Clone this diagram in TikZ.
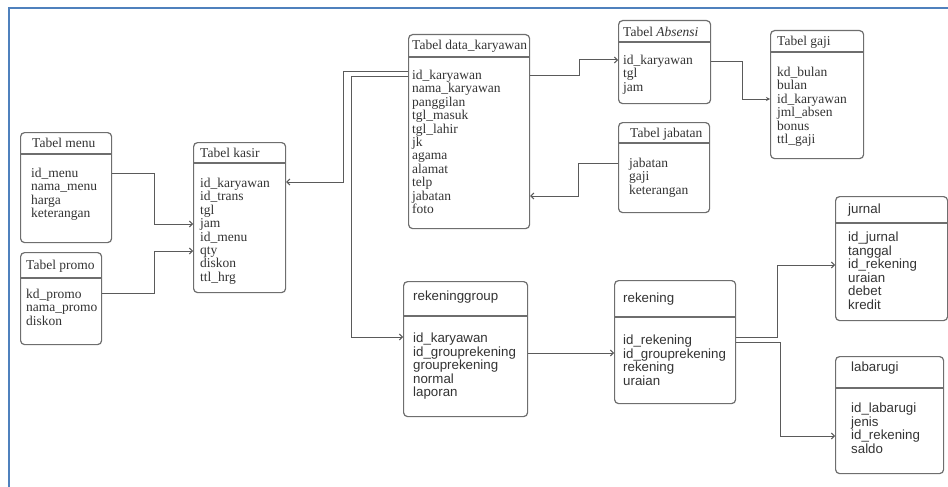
\documentclass[tikz,border=0pt]{standalone}
\usepackage{fontspec}
\setmainfont{Liberation Serif}
\newfontfamily\arialfont{Liberation Sans}
\usetikzlibrary{arrows.meta,positioning,calc}

\definecolor{frameblue}{HTML}{4F81BD}
\definecolor{boxgray}{HTML}{6E6E6E}
\definecolor{linegray}{HTML}{5A5A5A}
\definecolor{txtgray}{HTML}{333333}

\begin{document}
\begin{tikzpicture}[x=1pt, y=-1pt, >={Straight Barb[length=3pt,width=6pt]},
  tbl/.style={draw=boxgray, line width=1.2pt, rounded corners=4pt, anchor=north west, inner sep=0pt},
  hdr/.style={draw=boxgray, line width=1.2pt},
  ttl/.style={anchor=west, inner sep=0pt, text=txtgray, font=\fontsize{13.5}{13.4}\selectfont},
  fld/.style={anchor=north west, inner sep=0pt, align=left, text=txtgray, font=\fontsize{13.5}{13.4}\selectfont},
  sttl/.style={ttl, font=\arialfont\fontsize{13.3}{13.5}\selectfont},
  sfld/.style={fld, font=\arialfont\fontsize{13.3}{13.5}\selectfont},
  rel/.style={draw=linegray, line width=1pt, ->}]
\useasboundingbox (0,0) rectangle (948,487);
\draw[frameblue, line width=2.3pt] (9,487) -- (9,8) -- (948,8);

% tabel menu & promo
\node[tbl, minimum width=91pt, minimum height=110pt] (menu) at (20,132) {};
\draw[hdr] (menu.west |- 0,154) -- (menu.east |- 0,154);
\node[ttl] (menut) at (32,143) {Tabel menu};
\node[fld] (menuf) at (31,168) {id\_menu\\nama\_menu\\harga\\keterangan};

\node[tbl, minimum width=81pt, minimum height=92pt] (promo) at (20,252) {};
\draw[hdr] (promo.west |- 0,278) -- (promo.east |- 0,278);
\node[ttl] (promot) at (26,266) {Tabel promo};
\node[fld] (promof) at (26,289) {kd\_promo\\nama\_promo\\diskon};

% tabel kasir
\node[tbl, minimum width=92pt, minimum height=150pt] (kasir) at (193,142) {};
\draw[hdr] (kasir.west |- 0,163) -- (kasir.east |- 0,163);
\node[ttl] (kasirt) at (200,153) {Tabel kasir};
\node[fld] (kasirf) at (200,178) {id\_karyawan\\id\_trans\\tgl\\jam\\id\_menu\\qty\\diskon\\ttl\_hrg};

% tabel data_karyawan
\node[tbl, minimum width=121pt, minimum height=194pt] (kar) at (408,34) {};
\draw[hdr] (kar.west |- 0,57) -- (kar.east |- 0,57);
\node[ttl] (kart) at (412,46) {Tabel data\_karyawan};
\node[fld] (karf) at (412,70) {id\_karyawan\\nama\_karyawan\\panggilan\\tgl\_masuk\\tgl\_lahir\\jk\\agama\\alamat\\telp\\jabatan\\foto};

% tabel absensi, jabatan, gaji
\node[tbl, minimum width=92pt, minimum height=83pt] (absen) at (618,20) {};
\draw[hdr] (absen.west |- 0,42) -- (absen.east |- 0,42);
\node[ttl] (absent) at (623,32) {Tabel \textit{Absensi}};
\node[fld] (absenf) at (623,55) {id\_karyawan\\tgl\\jam};

\node[tbl, minimum width=91pt, minimum height=90pt] (jabatan) at (618,122) {};
\draw[hdr] (jabatan.west |- 0,143) -- (jabatan.east |- 0,143);
\node[ttl] (jabatant) at (630,134) {Tabel jabatan};
\node[fld] (jabatanf) at (629,158) {jabatan\\gaji\\keterangan};

\node[tbl, minimum width=93pt, minimum height=128pt] (gaji) at (770,30) {};
\draw[hdr] (gaji.west |- 0,52) -- (gaji.east |- 0,52);
\node[ttl] (gajit) at (777,42) {Tabel gaji};
\node[fld] (gajif) at (777,67) {kd\_bulan\\bulan\\id\_karyawan\\jml\_absen\\bonus\\ttl\_gaji};

% rekening part
\node[tbl, minimum width=124pt, minimum height=135pt] (rgroup) at (403,281) {};
\draw[hdr] (rgroup.west |- 0,316) -- (rgroup.east |- 0,316);
\node[sttl] (rgroupt) at (413,297) {rekeninggroup};
\node[sfld] (rgroupf) at (413,333) {id\_karyawan\\id\_grouprekening\\grouprekening\\normal\\laporan};

\node[tbl, minimum width=121pt, minimum height=123pt] (rek) at (614,280) {};
\draw[hdr] (rek.west |- 0,317) -- (rek.east |- 0,317);
\node[sttl] (rekt) at (623,299) {rekening};
\node[sfld] (rekf) at (623,335) {id\_rekening\\id\_grouprekening\\rekening\\uraian};

\node[tbl, minimum width=112pt, minimum height=124pt] (jurnal) at (835,196) {};
\draw[hdr] (jurnal.west |- 0,223) -- (jurnal.east |- 0,223);
\node[sttl] (jurnalt) at (848,210) {jurnal};
\node[sfld] (jurnalf) at (848,232) {id\_jurnal\\tanggal\\id\_rekening\\uraian\\debet\\kredit};

\node[tbl, minimum width=108pt, minimum height=117pt] (laba) at (835,356) {};
\draw[hdr] (laba.west |- 0,388) -- (laba.east |- 0,388);
\node[sttl] (labat) at (851,368) {labarugi};
\node[sfld] (labaf) at (851,403) {id\_labarugi\\jenis\\id\_rekening\\saldo};

% relasi
\draw[rel] ([yshift=-41pt]menu.north east) -- ++(42,0) |- ([yshift=-82pt]kasir.north west);
\draw[rel] ([yshift=-41pt]promo.north east) -- ++(52,0) |- ([yshift=-109pt]kasir.north west);
\draw[rel] ([yshift=-38pt]kar.north west) -- ++(-65,0) |- ([yshift=-40pt]kasir.north east);
\draw[rel] ([yshift=-43pt]kar.north west) -- ++(-57,0) |- ([yshift=-56pt]rgroup.north west);
\draw[rel] ([yshift=-42pt]kar.north east) -- ++(49,0) |- ([yshift=-40pt]absen.north west);
\draw[rel, >={Stealth[length=4pt,width=4pt]}] ([yshift=-42pt]absen.north east) -- ++(31,0) |- ([yshift=-69pt]gaji.north west);
\draw[rel] ([yshift=-41pt]jabatan.north west) -- ++(-40,0) |- ([yshift=-162pt]kar.north east);
\draw[rel] ([yshift=-72pt]rgroup.north east) -- ([yshift=-73pt]rek.north west);
\draw[rel] ([yshift=-57pt]rek.north east) -- ++(41,0) |- ([yshift=-69pt]jurnal.north west);
\draw[rel] ([yshift=-62pt]rek.north east) -- ++(44,0) |- ([yshift=-80pt]laba.north west);
\end{tikzpicture}
\end{document}
